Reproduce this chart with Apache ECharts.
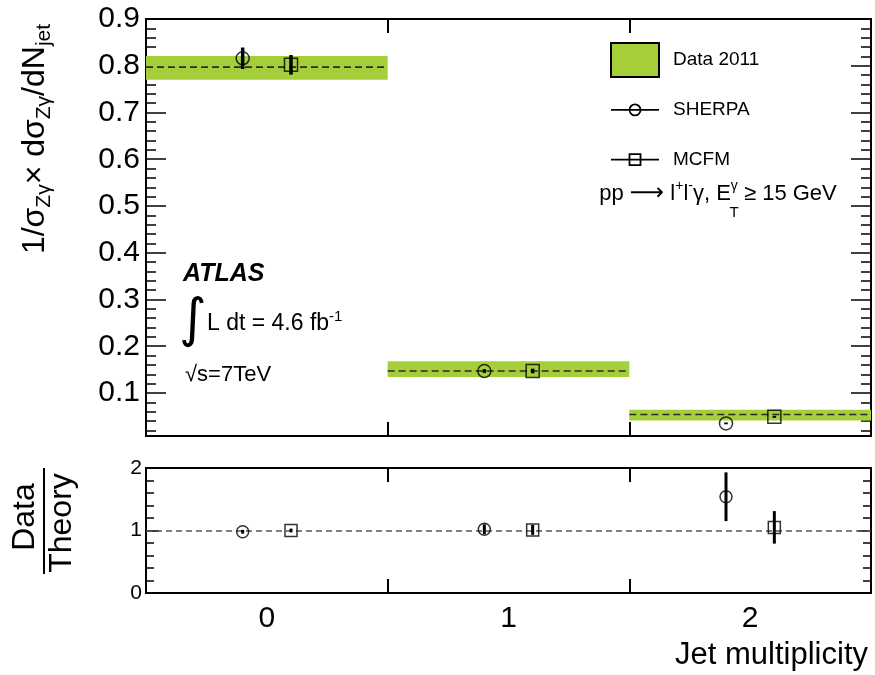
<!DOCTYPE html>
<html><head><meta charset="utf-8">
<script src="https://cdn.jsdelivr.net/npm/echarts@6/dist/echarts.min.js"></script>
<style>html,body{margin:0;padding:0;background:#fff}#c{width:875px;height:675px}</style>
</head><body><div id="c"></div>
<script>
// ---- data ----
const categories = ['0', '1', '2'];
const binCenters = [0, 1, 2];
const dataValue = [0.797, 0.147, 0.054];
const dataLow = [0.770, 0.134, 0.041];
const dataHigh = [0.821, 0.168, 0.064];
const sherpaValue = [0.816, 0.147, 0.035];
const sherpaError = [0.023, 0.004, 0.002];
const mcfmValue = [0.802, 0.147, 0.049];
const mcfmError = [0.021, 0.005, 0.002];
const sherpaRatio = [0.98, 1.02, 1.54];
const sherpaRatioError = [0.03, 0.08, 0.39];
const mcfmRatio = [1.00, 1.01, 1.05];
const mcfmRatioError = [0.03, 0.08, 0.26];
const topTickLabels = ['0.1', '0.2', '0.3', '0.4', '0.5', '0.6', '0.7', '0.8', '0.9'];
const ratioReference = 1;
const seriesNames = ['Data 2011', 'SHERPA', 'MCFM'];

// ---- helpers ----
const FONT = '"Liberation Sans", Arial, Helvetica, sans-serif';
const GREEN = '#a5ce3b';
const sherpaShift = -0.1, mcfmShift = 0.1;

const bandData = binCenters.map((c, i) => [c, dataLow[i], dataHigh[i], dataValue[i]]);
const errData = (vals, errs, shift) => binCenters.map((c, i) => [c + shift, vals[i], errs[i]]);
const ptData = (vals, shift) => binCenters.map((c, i) => [c + shift, vals[i]]);

function renderBand(params, api) {
  const x = api.value(0), lo = api.value(1), hi = api.value(2), v = api.value(3);
  const p1 = api.coord([x - 0.5, hi]), p2 = api.coord([x + 0.5, lo]);
  const m1 = api.coord([x - 0.5, v]), m2 = api.coord([x + 0.5, v]);
  return {
    type: 'group', children: [
      { type: 'rect', shape: { x: p1[0], y: p1[1], width: p2[0] - p1[0], height: p2[1] - p1[1] }, style: { fill: GREEN } },
      { type: 'line', shape: { x1: m1[0], y1: m1[1], x2: m2[0], y2: m2[1] }, style: { stroke: '#2b2b2b', lineWidth: 1.6, lineDash: [7, 4] } }
    ]
  };
}
function makeErr(width) {
  return function (params, api) {
    const x = api.value(0), v = api.value(1), e = api.value(2);
    const a = api.coord([x, v + e]), b = api.coord([x, v - e]);
    return { type: 'line', shape: { x1: a[0], y1: a[1], x2: b[0], y2: b[1] }, style: { stroke: '#000', lineWidth: width } };
  };
}
const hollow = { color: 'rgba(0,0,0,0)', borderColor: '#000', borderWidth: 1.5 };

function topLabel(v) {
  const k = Math.round(v * 10);
  if (Math.abs(v * 10 - k) > 1e-6 || k < 1) return '';
  return topTickLabels[k - 1] || '';
}

const xCat = (grid, pos, showLabel) => ({
  gridIndex: grid, type: 'category', data: categories, position: pos, boundaryGap: true,
  axisLine: { show: true, onZero: false, lineStyle: { color: '#000', width: 2 } },
  axisTick: { show: true, inside: true, length: 14, lineStyle: { color: '#000', width: 2 } },
  axisLabel: { show: showLabel, fontSize: 30, color: '#000', fontFamily: FONT, margin: 11 },
  splitLine: { show: false }
});
const yTop = (pos, showLabel) => ({
  gridIndex: 0, type: 'value', position: pos, min: 0.008, max: 0.9, minInterval: 0.1, maxInterval: 0.1,
  axisLine: { show: true, onZero: false, lineStyle: { color: '#000', width: 2 } },
  axisTick: { show: true, inside: true, length: 20, lineStyle: { color: '#000', width: 1.5 } },
  minorTick: { show: true, splitNumber: 5, length: 10, lineStyle: { color: '#000', width: 1.5 } },
  axisLabel: { show: showLabel, formatter: topLabel, fontSize: 30, color: '#000', fontFamily: FONT, margin: 6 },
  splitLine: { show: false }, minorSplitLine: { show: false }
});
const yRatio = (pos, showLabel) => ({
  gridIndex: 1, type: 'value', position: pos, min: 0, max: 2, interval: 1,
  axisLine: { show: true, onZero: false, lineStyle: { color: '#000', width: 2 } },
  axisTick: { show: true, inside: true, length: 13, lineStyle: { color: '#000', width: 1.5 } },
  minorTick: { show: true, splitNumber: 5, length: 8, lineStyle: { color: '#000', width: 1.5 } },
  axisLabel: { show: showLabel, fontSize: 21, color: '#000', fontFamily: FONT, margin: 4 },
  splitLine: { show: false }, minorSplitLine: { show: false }
});

const sherpaIcon = 'path://M0,0M48,34M0,17L48,17M29.5,17A5.5,5.5,0,1,1,18.5,17A5.5,5.5,0,1,1,29.5,17Z';
const mcfmIcon = 'path://M0,0M48,34M0,17L48,17M18.5,11.5L29.5,11.5L29.5,22.5L18.5,22.5Z';

const chart = echarts.init(document.getElementById('c'), null, { renderer: 'canvas' });
chart.setOption({
  animation: false,
  backgroundColor: '#fff',
  textStyle: { fontFamily: FONT },
  grid: [
    { left: 146, right: 4, top: 19, height: 417, show: true, borderColor: '#000', borderWidth: 2, backgroundColor: 'transparent' },
    { left: 146, right: 4, top: 468, height: 125, show: true, borderColor: '#000', borderWidth: 2, backgroundColor: 'transparent' }
  ],
  xAxis: [
    { gridIndex: 0, type: 'value', min: -0.5, max: 2.5, show: false },
    xCat(0, 'bottom', false),
    xCat(0, 'top', false),
    { gridIndex: 1, type: 'value', min: -0.5, max: 2.5, show: false },
    xCat(1, 'bottom', true),
    xCat(1, 'top', false)
  ],
  yAxis: [yTop('left', true), yTop('right', false), yRatio('left', true), yRatio('right', false)],
  legend: {
    orient: 'vertical', left: 605, top: 37, itemWidth: 48, itemHeight: 34, itemGap: 14,
    selectedMode: false,
    textStyle: { fontSize: 19, color: '#000', fontFamily: FONT, padding: [0, 0, 0, 9] },
    data: [
      { name: seriesNames[0], icon: 'rect', itemStyle: { color: GREEN, borderColor: '#000', borderWidth: 2 } },
      { name: seriesNames[1], icon: sherpaIcon, itemStyle: { color: 'rgba(0,0,0,0)', borderColor: '#000', borderWidth: 1.8 } },
      { name: seriesNames[2], icon: mcfmIcon, itemStyle: { color: 'rgba(0,0,0,0)', borderColor: '#000', borderWidth: 1.8 } }
    ]
  },
  series: [
    { type: 'custom', name: seriesNames[0], xAxisIndex: 0, yAxisIndex: 0, renderItem: renderBand, data: bandData, encode: { x: 0, y: [1, 2] }, silent: true, z: 1 },
    { type: 'custom', name: seriesNames[1], xAxisIndex: 0, yAxisIndex: 0, renderItem: makeErr(3.5), data: errData(sherpaValue, sherpaError, sherpaShift), encode: { x: 0, y: 1 }, silent: true, z: 2 },
    { type: 'custom', name: seriesNames[2], xAxisIndex: 0, yAxisIndex: 0, renderItem: makeErr(3.5), data: errData(mcfmValue, mcfmError, mcfmShift), encode: { x: 0, y: 1 }, silent: true, z: 2 },
    { type: 'scatter', name: seriesNames[1], xAxisIndex: 0, yAxisIndex: 0, symbol: 'circle', symbolSize: 13, itemStyle: hollow, data: ptData(sherpaValue, sherpaShift), silent: true, z: 3 },
    { type: 'scatter', name: seriesNames[2], xAxisIndex: 0, yAxisIndex: 0, symbol: 'rect', symbolSize: 13, itemStyle: hollow, data: ptData(mcfmValue, mcfmShift), silent: true, z: 3 },
    { type: 'custom', name: seriesNames[1], xAxisIndex: 3, yAxisIndex: 2, renderItem: makeErr(3), data: errData(sherpaRatio, sherpaRatioError, sherpaShift), encode: { x: 0, y: 1 }, silent: true, z: 2 },
    { type: 'custom', name: seriesNames[2], xAxisIndex: 3, yAxisIndex: 2, renderItem: makeErr(3), data: errData(mcfmRatio, mcfmRatioError, mcfmShift), encode: { x: 0, y: 1 }, silent: true, z: 2 },
    { type: 'scatter', name: seriesNames[1], xAxisIndex: 3, yAxisIndex: 2, symbol: 'circle', symbolSize: 12, itemStyle: hollow, data: ptData(sherpaRatio, sherpaShift), silent: true, z: 3,
      markLine: { silent: true, symbol: 'none', label: { show: false }, lineStyle: { type: [6, 4], color: '#555', width: 1.5 }, data: [{ yAxis: ratioReference }], z: 1 } },
    { type: 'scatter', name: seriesNames[2], xAxisIndex: 3, yAxisIndex: 2, symbol: 'rect', symbolSize: 12, itemStyle: hollow, data: ptData(mcfmRatio, mcfmShift), silent: true, z: 3 }
  ],
  graphic: [
    { type: 'text', x: 35, y: 139, rotation: Math.PI / 2, silent: true,
      style: { text: '{m|1/σ}{s|Zγ}{m|× dσ}{s|Zγ}{m|/dN}{s|jet}', align: 'center', verticalAlign: 'middle',
        rich: { m: { fontSize: 32, lineHeight: 40, fontFamily: FONT, fill: '#000' }, s: { fontSize: 21, lineHeight: 21, verticalAlign: 'bottom', fontFamily: FONT, fill: '#000' } } } },
    { type: 'text', x: 25, y: 517, rotation: Math.PI / 2, silent: true, style: { text: 'Data', fontSize: 32, fontFamily: FONT, fill: '#000', align: 'center', verticalAlign: 'middle' } },
    { type: 'line', silent: true, shape: { x1: 44, y1: 468, x2: 44, y2: 574 }, style: { stroke: '#000', lineWidth: 2 } },
    { type: 'text', x: 62, y: 523, rotation: Math.PI / 2, silent: true, style: { text: 'Theory', fontSize: 32, fontFamily: FONT, fill: '#000', align: 'center', verticalAlign: 'middle' } },
    { type: 'text', x: 868, y: 655, silent: true, style: { text: 'Jet multiplicity', fontSize: 31, fontFamily: FONT, fill: '#000', align: 'right', verticalAlign: 'middle' } },
    { type: 'text', x: 183, y: 274, silent: true, style: { text: 'ATLAS', font: 'italic bold 25px "Liberation Sans", Arial, sans-serif', fill: '#000', verticalAlign: 'middle' } },
    { type: 'text', x: 179, y: 322, silent: true, style: { text: '∫', fontSize: 53, fontFamily: '"DejaVu Sans"', fill: '#000', verticalAlign: 'middle' } },
    { type: 'text', x: 207, y: 324, silent: true,
      style: { text: '{m|L dt = 4.6 fb}{p|-1}', verticalAlign: 'middle',
        rich: { m: { fontSize: 23, lineHeight: 30, fontFamily: FONT, fill: '#000' }, p: { fontSize: 15, lineHeight: 15, verticalAlign: 'top', fontFamily: FONT, fill: '#000' } } } },
    { type: 'text', x: 185, y: 375, silent: true, style: { text: '√s=7TeV', fontSize: 22, fontFamily: FONT, fill: '#000', verticalAlign: 'middle' } },
    { type: 'text', x: 718, y: 194, silent: true,
      style: { text: '{m|pp }{a|⟶}{m| l}{p|+}{m|l}{p|-}{m|γ, E}{p|γ}{m| ≥ 15 GeV}', align: 'center', verticalAlign: 'middle',
        rich: { m: { fontSize: 22, lineHeight: 30, fontFamily: FONT, fill: '#000' }, a: { fontSize: 24, lineHeight: 30, fontFamily: '"DejaVu Sans"', fill: '#000' }, p: { fontSize: 14, lineHeight: 14, verticalAlign: 'top', fontFamily: FONT, fill: '#000' } } } },
    { type: 'text', x: 734, y: 213, silent: true, style: { text: 'T', fontSize: 15, fontFamily: FONT, fill: '#000', align: 'center', verticalAlign: 'middle' } }
  ]
});
</script></body></html>
